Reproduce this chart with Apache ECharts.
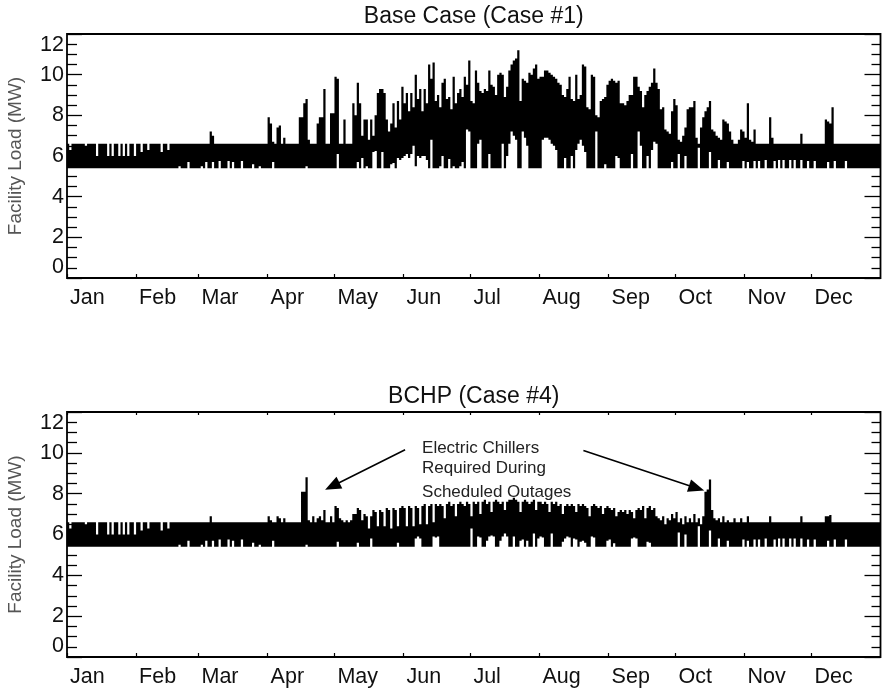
<!DOCTYPE html>
<html>
<head>
<meta charset="utf-8">
<script src="https://cdn.jsdelivr.net/npm/echarts@6/dist/echarts.min.js"></script>
<style>
  html, body { margin: 0; padding: 0; background: #fff; }
  #chart { width: 882px; height: 692px; }
</style>
</head>
<body>
<div id="chart"></div>
<script>
// ---------- data (daily low / high of hourly facility load, MW) ----------
const MONTHS = ['Jan','Feb','Mar','Apr','May','Jun','Jul','Aug','Sep','Oct','Nov','Dec'];
const MONTH_START = [0,31,59,90,120,151,181,212,243,273,304,334];
const Y_TICKS = [0,2,4,6,8,10,12];
const TITLES = ['Base Case (Case #1)', 'BCHP (Case #4)'];
const Y_NAME = 'Facility Load (MW)';
const NOTE_LINES = ['Electric Chillers', 'Required During', 'Scheduled Outages'];

const baseMax = [
/*Jan*/ 6.6,6.3,6.6,6.6,6.6,6.6,6.6,6.6,6.5,6.6, 6.6,6.6,6.6,6.0,6.6,6.6,6.6,6.6,6.0,6.6, 6.0,6.6,6.6,6.0,6.6,6.0,6.6,6.0,6.6,6.6, 6.0,
/*Feb*/ 6.6,6.6,6.2,6.6,6.6,6.3,6.6,6.6,6.6,6.6, 6.6,6.2,6.6,6.6,6.3,6.6,6.6,6.6,6.6,6.6, 6.6,6.6,6.6,6.6,6.6,6.6,6.6,6.6,
/*Mar*/ 6.6,6.6,6.6,6.6,6.6,7.2,7.0,6.6,6.6,6.6, 6.6,6.6,6.6,6.6,6.6,6.6,6.6,6.6,6.6,6.6, 6.6,6.6,6.6,6.6,6.6,6.6,6.6,6.6,6.6,6.6, 6.6,
/*Apr*/ 7.9,7.6,6.7,6.6,7.4,7.5,6.6,6.9,6.6,6.6, 6.6,6.6,6.6,6.6,7.9,7.9,8.6,8.8,6.8,6.6, 6.6,6.6,7.6,7.9,7.9,9.3,6.6,6.6,8.1,8.1,
/*May*/ 9.9,9.8,6.6,6.6,7.8,6.6,6.6,6.6,8.6,8.0, 9.6,8.6,7.0,7.8,7.8,6.8,7.8,7.0,8.0,9.1, 9.3,9.3,9.1,7.8,7.2,7.6,8.6,7.4,8.7,7.8, 9.4,
/*Jun*/ 8.6,9.1,8.2,9.1,8.4,10.0,8.8,9.3,8.2,9.3, 8.6,10.5,9.8,10.6,8.7,9.0,8.4,9.6,9.8,8.8, 8.9,8.3,9.9,8.6,9.1,9.3,8.9,9.9,9.5,10.7,
/*Jul*/ 8.7,8.6,10.2,9.6,9.2,9.1,9.3,9.2,10.2,9.5, 9.4,9.0,10.0,10.1,10.0,8.9,9.4,10.2,10.5,10.7, 10.8,11.2,8.7,9.8,9.7,9.6,10.1,10.0,10.3,10.5, 9.8,
/*Aug*/ 9.9,9.9,10.2,10.2,10.1,10.0,9.9,9.8,9.6,9.5, 9.0,8.9,9.3,9.9,8.8,8.7,10.0,8.8,9.0,10.5, 10.4,8.4,8.3,10.0,9.9,8.0,7.9,8.7,8.8,8.9, 9.5,
/*Sep*/ 9.7,9.8,9.7,9.6,9.7,8.6,8.6,8.5,8.7,9.0, 9.0,9.9,9.9,9.4,9.2,8.4,9.0,9.2,9.4,9.6, 10.3,9.6,9.3,8.3,8.4,7.3,7.2,7.1,8.2,8.8,
/*Oct*/ 8.5,6.8,6.7,7.0,7.4,8.3,8.4,8.4,8.7,6.9, 6.6,7.4,7.9,8.2,8.4,8.7,7.3,7.2,7.0,6.9, 6.8,7.8,7.7,7.6,7.2,6.8,6.6,6.6,6.8,7.3, 7.2,
/*Nov*/ 6.9,8.6,6.8,6.7,7.3,6.6,6.6,6.6,6.6,6.6, 6.6,7.9,6.9,6.6,6.6,6.6,6.6,6.6,6.6,6.6, 6.6,6.6,6.6,6.6,6.6,7.1,6.6,6.6,6.6,6.6,
/*Dec*/ 6.6,6.6,6.6,6.6,6.6,6.6,7.8,7.7,7.6,8.4, 6.6,6.6,6.6,6.6,6.6,6.6,6.6,6.6,6.6,6.6, 6.6,6.6,6.6,6.6,6.6,6.6,6.6,6.6,6.6,6.6, 6.6
];

const baseMin = [
/*Jan*/ 5.4,5.4,5.4,5.4,5.4,5.4,5.4,5.4,5.4,5.4, 5.4,5.4,5.4,5.4,5.4,5.4,5.4,5.4,5.4,5.4, 5.4,5.4,5.4,5.4,5.4,5.4,5.4,5.4,5.4,5.4, 5.4,
/*Feb*/ 5.4,5.4,5.4,5.4,5.4,5.4,5.4,5.4,5.4,5.4, 5.4,5.4,5.4,5.4,5.4,5.4,5.4,5.4,5.4,5.5, 5.4,5.4,5.4,5.7,5.4,5.4,5.4,5.4,
/*Mar*/ 5.4,5.5,5.4,5.7,5.4,5.4,5.7,5.4,5.4,5.75, 5.4,5.4,5.4,5.75,5.4,5.7,5.4,5.4,5.4,5.75, 5.4,5.4,5.4,5.4,5.6,5.4,5.4,5.5,5.4,5.4, 5.4,
/*Apr*/ 5.4,5.4,5.7,5.4,5.4,5.4,5.4,5.4,5.4,5.4, 5.4,5.4,5.4,5.4,5.4,5.4,5.4,5.5,5.4,5.4, 5.4,5.4,5.4,5.4,5.4,5.4,5.4,5.4,5.4,5.4,
/*May*/ 5.4,6.1,5.4,5.4,5.4,5.4,5.4,5.4,5.4,5.4, 5.7,5.4,5.9,5.4,5.5,5.4,5.4,6.2,6.25,5.4, 5.4,6.2,5.4,5.4,5.4,5.6,5.65,5.4,5.9,5.8, 5.9,
/*Jun*/ 6.0,6.1,5.9,6.1,6.5,5.5,6.0,5.9,6.0,6.0, 5.8,5.4,6.8,5.4,5.4,5.4,5.5,6.0,5.4,5.4, 5.85,5.4,5.5,5.4,5.4,5.5,5.7,5.4,7.3,7.2,
/*Jul*/ 5.4,5.4,5.4,6.6,6.8,5.4,5.4,5.4,6.1,5.4, 5.4,5.4,5.4,5.4,6.6,5.4,6.0,6.6,7.2,7.0, 6.8,5.4,5.4,7.2,6.9,6.5,5.4,5.4,5.4,5.4, 5.4,
/*Aug*/ 5.4,6.8,6.9,6.9,6.8,6.6,6.5,6.3,5.4,5.4, 5.4,5.9,5.4,5.4,6.0,5.4,6.3,6.6,6.8,6.5, 6.2,5.4,5.4,5.4,5.4,7.2,5.4,5.4,5.4,5.6, 5.4,
/*Sep*/ 5.4,5.4,5.4,6.0,5.9,5.4,5.4,5.4,5.4,5.4, 6.1,5.4,5.4,7.2,6.5,5.4,5.4,6.0,5.4,6.3, 6.7,6.6,5.4,5.4,5.4,5.4,5.4,5.4,5.7,5.4,
/*Oct*/ 5.4,6.1,5.4,5.4,6.0,5.4,5.4,5.4,5.4,5.4, 6.4,5.4,5.4,5.4,5.4,6.2,5.4,5.4,5.4,5.8, 5.4,5.4,5.4,5.7,5.4,5.4,5.4,5.4,5.4,5.4, 5.75,
/*Nov*/ 5.4,5.7,5.4,5.4,5.75,5.4,5.75,5.4,5.4,5.8, 5.4,5.4,5.4,5.75,5.4,5.8,5.4,5.8,5.4,5.4, 5.8,5.4,5.8,5.4,5.4,5.8,5.4,5.4,5.75,5.4,
/*Dec*/ 5.4,5.75,5.4,5.4,5.4,5.4,5.4,5.7,5.4,5.4, 5.75,5.4,5.4,5.4,5.4,5.75,5.4,5.4,5.4,5.4, 5.4,5.4,5.4,5.4,5.4,5.4,5.4,5.4,5.4,5.4, 5.4
];

const bchpMax = [
/*Jan*/ 6.6,6.3,6.6,6.6,6.6,6.6,6.6,6.6,6.5,6.6, 6.6,6.6,6.6,6.0,6.6,6.6,6.6,6.6,6.0,6.6, 6.0,6.6,6.6,6.0,6.6,6.0,6.6,6.0,6.6,6.6, 6.0,
/*Feb*/ 6.6,6.6,6.2,6.6,6.6,6.3,6.6,6.6,6.6,6.6, 6.6,6.2,6.6,6.6,6.3,6.6,6.6,6.6,6.6,6.6, 6.6,6.6,6.6,6.6,6.6,6.6,6.6,6.6,
/*Mar*/ 6.6,6.6,6.6,6.6,6.6,6.9,6.6,6.6,6.6,6.6, 6.6,6.6,6.6,6.6,6.6,6.6,6.6,6.6,6.6,6.6, 6.6,6.6,6.6,6.6,6.6,6.6,6.6,6.6,6.6,6.6, 6.6,
/*Apr*/ 6.9,6.7,6.6,6.6,6.9,6.8,6.6,6.8,6.6,6.6, 6.6,6.6,6.6,6.6,6.6,8.1,8.1,8.8,6.7,6.6, 6.9,6.6,6.8,6.9,6.7,7.2,6.6,6.6,6.9,6.6,
/*May*/ 7.4,7.3,6.8,6.7,6.6,6.7,6.6,6.7,7.0,7.0, 7.3,7.2,6.7,7.0,6.9,6.3,6.9,7.2,7.1,6.4, 7.2,7.1,6.4,7.3,7.2,6.3,7.3,7.2,6.4,7.3, 7.4,
/*Jun*/ 7.3,6.4,7.4,7.3,6.4,7.4,7.3,6.5,7.4,7.5, 6.5,7.4,7.5,6.6,7.5,7.4,7.5,7.4,6.8,7.5, 7.6,7.4,7.5,6.9,7.5,7.6,7.5,7.4,7.6,7.5,
/*Jul*/ 6.9,7.6,7.5,7.6,7.0,7.6,7.7,7.5,7.6,7.1, 7.6,7.7,7.6,7.5,7.6,7.2,7.6,7.7,7.7,7.8, 7.7,7.6,7.1,7.6,7.7,7.6,7.5,7.6,7.7,7.2, 7.6,
/*Aug*/ 7.6,7.5,7.6,7.5,7.1,7.6,7.5,7.6,7.4,7.5, 7.0,7.4,7.5,7.4,7.5,7.4,7.1,7.5,7.4,7.5, 7.4,7.3,6.9,7.4,7.5,7.4,7.3,7.4,7.0,7.3, 7.4,
/*Sep*/ 7.3,7.2,7.3,6.9,7.1,7.2,7.1,7.2,7.0,7.2, 7.1,6.8,7.2,7.3,7.2,7.4,6.8,7.3,7.4,7.2, 7.3,6.9,6.8,6.7,6.9,6.5,6.8,6.7,7.0,6.8,
/*Oct*/ 7.1,6.6,6.8,6.5,6.9,6.6,6.8,6.6,7.0,6.6, 6.8,6.5,6.9,8.1,8.2,8.7,7.2,6.8,6.7,6.8, 6.6,6.9,6.6,6.7,6.6,6.6,6.8,6.6,6.6,6.8, 6.6,
/*Nov*/ 6.6,6.9,6.6,6.6,6.6,6.6,6.6,6.6,6.6,6.6, 6.6,6.9,6.6,6.6,6.6,6.6,6.6,6.6,6.6,6.6, 6.6,6.6,6.6,6.6,6.6,6.9,6.6,6.6,6.6,6.6,
/*Dec*/ 6.6,6.6,6.6,6.6,6.6,6.6,6.9,6.9,6.95,6.6, 6.6,6.6,6.6,6.6,6.6,6.6,6.6,6.6,6.6,6.6, 6.6,6.6,6.6,6.6,6.6,6.6,6.6,6.6,6.6,6.6, 6.6
];

const bchpMin = [
/*Jan*/ 5.4,5.4,5.4,5.4,5.4,5.4,5.4,5.4,5.4,5.4, 5.4,5.4,5.4,5.4,5.4,5.4,5.4,5.4,5.4,5.4, 5.4,5.4,5.4,5.4,5.4,5.4,5.4,5.4,5.4,5.4, 5.4,
/*Feb*/ 5.4,5.4,5.4,5.4,5.4,5.4,5.4,5.4,5.4,5.4, 5.4,5.4,5.4,5.4,5.4,5.4,5.4,5.4,5.4,5.5, 5.4,5.4,5.4,5.7,5.4,5.4,5.4,5.4,
/*Mar*/ 5.4,5.5,5.4,5.7,5.4,5.4,5.7,5.4,5.4,5.75, 5.4,5.4,5.4,5.75,5.4,5.7,5.4,5.4,5.4,5.75, 5.4,5.4,5.4,5.4,5.6,5.4,5.4,5.5,5.4,5.4, 5.4,
/*Apr*/ 5.4,5.4,5.7,5.4,5.4,5.4,5.4,5.4,5.4,5.4, 5.4,5.4,5.4,5.4,5.4,5.4,5.4,5.5,5.4,5.4, 5.4,5.4,5.4,5.4,5.4,5.4,5.4,5.4,5.4,5.4,
/*May*/ 5.4,5.65,5.4,5.4,5.4,5.4,5.4,5.4,5.4,5.4, 5.6,5.4,5.4,5.4,5.4,5.4,5.8,5.4,5.4,5.4, 5.4,5.4,5.4,5.4,5.4,5.4,5.4,5.4,5.6,5.4, 5.4,
/*Jun*/ 5.4,5.4,5.4,5.4,5.4,5.8,5.9,5.8,5.4,5.4, 5.4,5.4,5.4,5.9,5.85,5.9,5.4,5.4,5.4,5.4, 5.4,5.4,5.4,5.4,5.4,5.4,5.4,5.4,5.4,5.4,
/*Jul*/ 6.3,5.4,5.4,5.9,5.85,5.4,5.4,5.7,5.9,5.95, 5.9,5.4,5.4,5.7,5.9,6.05,5.9,5.4,5.4,5.9, 5.4,5.4,5.7,5.75,5.4,5.7,5.4,5.4,6.05,5.4, 5.8,
/*Aug*/ 5.9,5.85,5.4,5.4,5.4,6.05,5.4,5.4,5.4,5.4, 5.65,5.8,5.9,5.85,5.4,5.8,5.75,5.4,5.65,5.7, 5.6,5.4,5.4,5.9,5.85,5.4,5.4,5.4,5.4,5.4, 5.7,
/*Sep*/ 5.75,5.4,5.57,5.4,5.4,5.4,5.4,5.4,5.4,5.4, 5.8,5.85,5.8,5.4,5.4,5.4,5.4,5.65,5.6,5.4, 5.4,5.4,5.4,5.4,5.4,5.4,5.4,5.4,5.4,5.4,
/*Oct*/ 5.4,6.1,5.4,5.4,6.0,5.4,5.4,5.4,5.4,5.4, 6.4,5.4,5.4,5.4,5.4,6.2,5.4,5.4,5.4,5.8, 5.4,5.4,5.4,5.7,5.4,5.4,5.4,5.4,5.4,5.4, 5.75,
/*Nov*/ 5.4,5.7,5.4,5.4,5.75,5.4,5.75,5.4,5.4,5.8, 5.4,5.4,5.4,5.75,5.4,5.8,5.4,5.8,5.4,5.4, 5.8,5.4,5.8,5.4,5.4,5.8,5.4,5.4,5.75,5.4,
/*Dec*/ 5.4,5.75,5.4,5.4,5.4,5.4,5.4,5.7,5.4,5.4, 5.75,5.4,5.4,5.4,5.4,5.75,5.4,5.4,5.4,5.4, 5.4,5.4,5.4,5.4,5.4,5.4,5.4,5.4,5.4,5.4, 5.4
];

// annotation arrows (data coordinates in lower panel: [day, MW])
const ARROWS = [
  { from: [151.7, 10.15], to: [115.8, 8.19] },
  { from: [231.7, 10.11], to: [285.9, 8.15] }
];
const NOTE_POS = [[159.3, 10.2], [159.3, 9.22], [159.3, 8.05]];

// ---------- chart ----------
const FONT = 'Liberation Sans, Arial, Helvetica, sans-serif';
const chart = echarts.init(document.getElementById('chart'), null, { renderer: 'canvas' });

function toRows(lo, hi) { return hi.map((h, i) => [i, lo[i], h]); }
const baseRows = toRows(baseMin, baseMax);
const bchpRows = toRows(bchpMin, bchpMax);

// one filled outline per panel: daily highs left->right, daily lows right->left
function bandRenderer(rows) {
  return function (params, api) {
    if (params.dataIndex !== 0) return null;
    const pts = [];
    for (let i = 0; i < rows.length; i++) {
      const d = rows[i][0], hi = rows[i][2];
      pts.push(api.coord([d, hi]));
      pts.push(api.coord([d + 1, hi]));
    }
    for (let i = rows.length - 1; i >= 0; i--) {
      const d = rows[i][0], lo = rows[i][1];
      pts.push(api.coord([d + 1, lo]));
      pts.push(api.coord([d, lo]));
    }
    return { type: 'polygon', shape: { points: pts }, style: { fill: '#000', stroke: null } };
  };
}

const GRIDS = [
  { left: 67, top: 34, width: 813.5, height: 244 },
  { left: 67, top: 412, width: 813.5, height: 245 }
];

function xAxisBottom(gi) {
  return {
    type: 'value', gridIndex: gi, min: 0, max: 365, position: 'bottom',
    axisLine: { show: false, onZero: false },
    splitLine: { show: false },
    axisTick: { show: true, inside: true, length: 4, customValues: MONTH_START, lineStyle: { color: '#000', width: 1.2 } },
    axisLabel: {
      show: true, customValues: MONTH_START, align: 'left', margin: 9, padding: [0, 0, 0, 3],
      formatter: v => MONTHS[MONTH_START.indexOf(Math.round(v))] || '',
      fontFamily: FONT, fontSize: 21.5, color: '#111'
    }
  };
}
function xAxisTop(gi) {
  return {
    type: 'value', gridIndex: gi, min: 0, max: 365, position: 'top',
    axisLine: { show: false, onZero: false }, splitLine: { show: false }, axisLabel: { show: false },
    axisTick: { show: true, inside: true, length: 3, customValues: MONTH_START, lineStyle: { color: '#000', width: 1.2 } }
  };
}
function yAxisLeft(gi) {
  return {
    type: 'value', gridIndex: gi, min: 0, max: 12, interval: 2, position: 'left',
    name: Y_NAME, nameLocation: 'middle', nameGap: 42, nameRotate: 90,
    nameTextStyle: { fontFamily: FONT, fontSize: 19, color: '#555' },
    axisLine: { show: false, onZero: false },
    splitLine: { show: false },
    axisTick: { show: true, inside: true, length: 15, lineStyle: { color: '#000', width: 1.3 } },
    minorTick: { show: true, splitNumber: 4, length: 10, lineStyle: { color: '#000', width: 1.3 } },
    minorSplitLine: { show: false },
    axisLabel: {
      margin: 3, fontFamily: FONT, fontSize: 21.5, color: '#111',
      customValues: Y_TICKS,
      verticalAlignMaxLabel: 'top', verticalAlignMinLabel: 'bottom'
    }
  };
}
function yAxisRight(gi) {
  return {
    type: 'value', gridIndex: gi, min: 0, max: 12, interval: 2, position: 'right',
    axisLine: { show: false, onZero: false }, splitLine: { show: false }, axisLabel: { show: false },
    axisTick: { show: true, inside: true, length: 16, lineStyle: { color: '#000', width: 1.3 } },
    minorTick: { show: true, splitNumber: 4, length: 9, lineStyle: { color: '#000', width: 1.3 } },
    minorSplitLine: { show: false }
  };
}

const option = {
  animation: false,
  backgroundColor: '#fff',
  grid: GRIDS.map(g => Object.assign({ show: true, borderColor: '#000', borderWidth: 1.8, backgroundColor: 'transparent', outerBoundsMode: 'none' }, g)),
  xAxis: [xAxisBottom(0), xAxisBottom(1), xAxisTop(1)],
  yAxis: [yAxisLeft(0), yAxisRight(0), yAxisLeft(1), yAxisRight(1)],
  series: [
    { name: TITLES[0], type: 'custom', xAxisIndex: 0, yAxisIndex: 0, renderItem: bandRenderer(baseRows),
      data: baseRows, encode: { x: 0, y: [1, 2] }, silent: true, clip: true },
    { name: TITLES[1], type: 'custom', xAxisIndex: 1, yAxisIndex: 2, renderItem: bandRenderer(bchpRows),
      data: bchpRows, encode: { x: 0, y: [1, 2] }, silent: true, clip: true }
  ]
};
chart.setOption(option);

// titles, annotation text and arrows, positioned through the axes
function px(seriesIdx, pt) {
  return chart.convertToPixel({ seriesIndex: seriesIdx }, pt);
}
const graphics = [];
const TITLE_OFFSET = [-17, -15];
GRIDS.forEach((g, i) => {
  const c = px(i, [182.5, 12]);
  graphics.push({
    type: 'text', x: c[0], y: c[1] + TITLE_OFFSET[i], silent: true,
    style: { text: TITLES[i], textAlign: 'center', textVerticalAlign: 'middle', fontFamily: FONT, fontSize: 23, fill: '#111' }
  });
});
NOTE_LINES.forEach((t, i) => {
  const p = px(1, NOTE_POS[i]);
  graphics.push({
    type: 'text', x: p[0], y: p[1], silent: true,
    style: { text: t, textAlign: 'left', textVerticalAlign: 'middle', fontFamily: FONT, fontSize: 17, fill: '#222' }
  });
});
ARROWS.forEach(a => {
  const s = px(1, a.from), t = px(1, a.to);
  const dx = t[0] - s[0], dy = t[1] - s[1];
  const len = Math.sqrt(dx * dx + dy * dy);
  const ux = dx / len, uy = dy / len, nx = -uy, ny = ux;
  const L = 16, W = 6.5;
  const bx = t[0] - ux * L, by = t[1] - uy * L;
  graphics.push({ type: 'line', silent: true, shape: { x1: s[0], y1: s[1], x2: bx + ux * 2, y2: by + uy * 2 }, style: { stroke: '#000', lineWidth: 1.6 } });
  graphics.push({ type: 'polygon', silent: true, shape: { points: [[t[0], t[1]], [bx + nx * W, by + ny * W], [bx - nx * W, by - ny * W]] }, style: { fill: '#000' } });
});
chart.setOption({ graphic: graphics });
</script>
</body>
</html>
